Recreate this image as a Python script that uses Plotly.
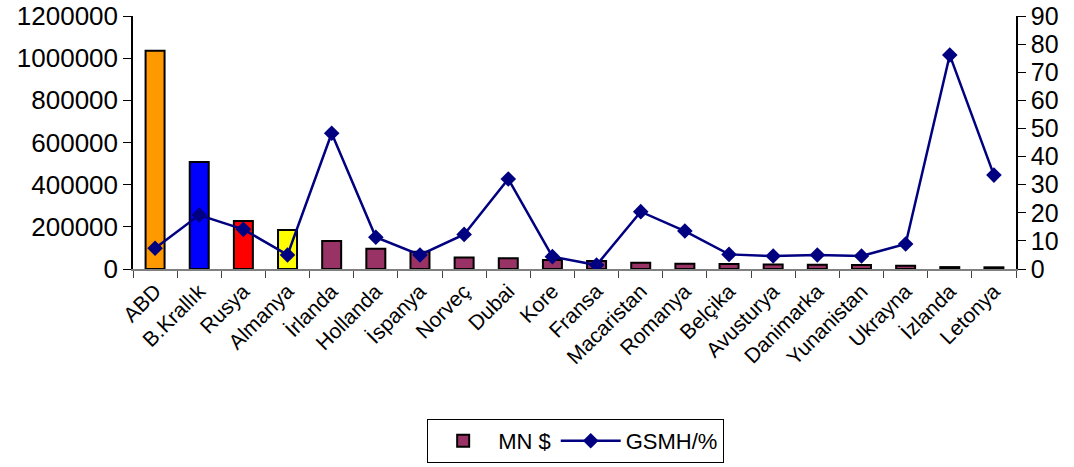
import plotly.graph_objects as go

# Country names and values
countries = ["ABD", "B.Krallık", "Rusya", "Almanya", "İrlanda", "Hollanda", "İspanya",
             "Norveç", "Dubai", "Kore", "Fransa", "Macaristan", "Romanya", "Belçika",
             "Avusturya", "Danimarka", "Yunanistan", "Ukrayna", "İzlanda", "Letonya"]
mn_usd = [1035000, 507000, 228000, 185000, 133000, 96000, 82000, 55000, 51000, 43000,
          38000, 30000, 25000, 24000, 21000, 20000, 19000, 15000, 9000, 8000]
gsmh_pct = [7.4, 19.2, 14.1, 5.0, 48.3, 11.3, 5.0, 12.3, 32.0, 4.4,
            1.4, 20.4, 13.5, 5.2, 4.6, 5.0, 4.6, 8.9, 76.1, 33.4]

# Left and right axis tick values
left_ticks = [0, 200000, 400000, 600000, 800000, 1000000, 1200000]
right_ticks = [0, 10, 20, 30, 40, 50, 60, 70, 80, 90]

bar_default = "#993366"
highlight = {"ABD": "#FF9900", "B.Krallık": "#0000FF", "Rusya": "#FF0000", "Almanya": "#FFFF00"}
bar_colors = [highlight.get(c, bar_default) for c in countries]

FONT = "Liberation Sans, Arial, sans-serif"

fig = go.Figure()

fig.add_trace(go.Bar(
    x=countries, y=mn_usd, name="MN $", showlegend=False,
    marker=dict(color=bar_colors, line=dict(color="black", width=2)),
    width=0.43,
))
# legend entry for the bar series
fig.add_trace(go.Bar(
    x=[None], y=[None], name="MN $",
    marker=dict(color=bar_default, line=dict(color="black", width=2)),
))
fig.add_trace(go.Scatter(
    x=countries, y=gsmh_pct, name="GSMH/%", yaxis="y2",
    mode="lines+markers",
    line=dict(color="#000080", width=2.5),
    marker=dict(symbol="diamond", size=12, color="#000080"),
))

cat_range = [-0.5, len(countries) - 0.5]
tick_common = dict(showgrid=False, zeroline=False, automargin=False)

fig.update_layout(
    width=1074, height=467,
    margin=dict(l=133, r=58, t=16, b=198, autoexpand=False),
    paper_bgcolor="white", plot_bgcolor="white",
    barmode="overlay",
    font=dict(family=FONT, color="black"),
    xaxis=dict(
        type="category", categoryorder="array", categoryarray=countries,
        tickangle=-45, tickfont=dict(size=21), tickson="boundaries",
        ticks="outside", ticklen=7, tickcolor="#444444",
        showline=True, linecolor="#808080", linewidth=1.5,
        range=cat_range, **tick_common,
    ),
    # inner halves of the crossing tick marks
    xaxis2=dict(
        type="category", categoryorder="array", categoryarray=countries,
        overlaying="x", matches="x", tickson="boundaries",
        ticks="inside", ticklen=7, tickcolor="#444444",
        showticklabels=False, showline=False, range=cat_range, **tick_common,
    ),
    yaxis=dict(
        range=[0, 1200000], tickvals=left_ticks, tickformat="d",
        tickfont=dict(size=26), ticks="outside", ticklen=8, tickcolor="black",
        showline=True, linecolor="black", linewidth=1.5, **tick_common,
    ),
    yaxis2=dict(
        overlaying="y", side="right",
        range=[0, 90], tickvals=right_ticks,
        tickfont=dict(size=25), ticks="outside", ticklen=8, tickcolor="black",
        showline=True, linecolor="black", linewidth=1.5, **tick_common,
    ),
    yaxis3=dict(
        overlaying="y", side="left", range=[0, 1200000], tickvals=left_ticks,
        ticks="inside", ticklen=8, tickcolor="black", showticklabels=False,
        showline=False, **tick_common,
    ),
    yaxis4=dict(
        overlaying="y", side="right", range=[0, 90], tickvals=right_ticks,
        ticks="inside", ticklen=8, tickcolor="black", showticklabels=False,
        showline=False, **tick_common,
    ),
    legend=dict(
        orientation="h", xref="container", yref="container",
        x=0.536, xanchor="center", y=0.103, yanchor="top",
        bordercolor="black", borderwidth=1, bgcolor="white",
        font=dict(size=22), itemwidth=60,
    ),
)

fig.write_html("out.html")
